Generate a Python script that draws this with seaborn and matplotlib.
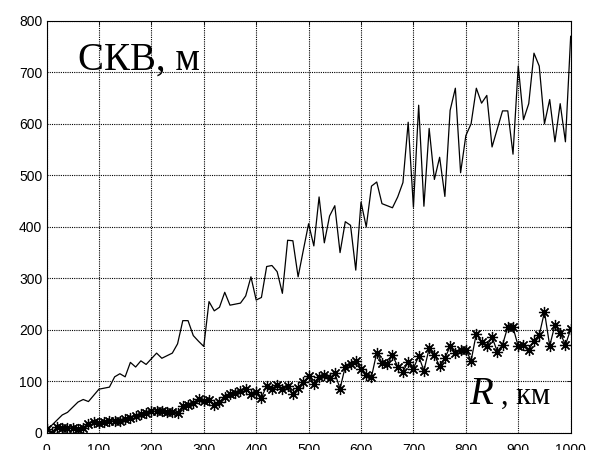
import seaborn as sns
import matplotlib.pyplot as plt
import numpy as np
import pandas as pd

# дальность, км
dist_km = np.arange(0, 1001, 10)

# СКВ, м (верхняя кривая)
skv_upper = [8, 15, 25, 35, 40, 50, 60, 65, 61, 73,
             85, 87, 89, 109, 115, 109, 137, 128, 140, 133,
             144, 155, 145, 150, 155, 173, 218, 218, 189, 178,
             168, 255, 237, 244, 273, 248, 250, 252, 266, 303,
             258, 263, 323, 325, 313, 271, 374, 373, 303, 355,
             406, 363, 458, 369, 421, 441, 350, 410, 403, 316,
             448, 400, 479, 487, 445, 441, 437, 458, 486, 603,
             438, 636, 440, 591, 492, 535, 459, 626, 669, 505,
             577, 600, 669, 640, 655, 555, 590, 625, 625, 541,
             712, 608, 639, 737, 712, 600, 647, 565, 639, 565,
             770]

# СКВ, м (нижняя кривая со звёздочками)
skv_lower = [8, 0, 12, 10, 10, 10, 8, 10, 18, 22,
             20, 22, 23, 24, 24, 27, 30, 33, 37, 38,
             42, 42, 42, 41, 40, 38, 52, 55, 58, 65,
             63, 64, 55, 60, 70, 75, 78, 82, 85, 75,
             80, 68, 92, 85, 93, 85, 92, 75, 88, 99,
             110, 96, 109, 112, 106, 116, 86, 129, 133, 140,
             125, 112, 109, 156, 136, 134, 151, 129, 119, 138,
             125, 149, 121, 164, 151, 130, 145, 168, 156, 161,
             162, 140, 193, 177, 169, 186, 158, 171, 206, 205,
             168, 171, 161, 179, 190, 235, 169, 210, 194, 171,
             201]

df = pd.DataFrame({"R": dist_km, "upper": skv_upper, "lower": skv_lower})

sns.set_style("white")
plt.rcParams['font.family'] = ['Liberation Sans', 'DejaVu Sans']

fig = plt.figure(figsize=(5.98, 4.5), dpi=100)
ax = fig.add_axes([0.0778, 0.0378, 0.8765, 0.9162])

sns.lineplot(data=df, x="R", y="upper", color="k", linewidth=0.9, ax=ax)
sns.lineplot(data=df, x="R", y="lower", color="k", linewidth=0.9,
             marker=(8, 2, 0), markersize=8, markeredgewidth=0.9,
             markeredgecolor="k", ax=ax)

ax.set_xlim(0, 1000)
ax.set_ylim(0, 800)
ax.set_xticks(np.arange(0, 1001, 100))
ax.set_yticks(np.arange(0, 801, 100))
ax.set_xlabel("")
ax.set_ylabel("")
ax.grid(True, color="k", linestyle=(0, (1, 1)), linewidth=0.8)
ax.tick_params(direction="in", length=3, width=0.6, labelsize=10,
               top=True, right=True, colors="k", pad=3)
ax.tick_params(axis="x", pad=7)
for s in ax.spines.values():
    s.set_color("k")
    s.set_linewidth(0.8)

ax.text(60, 705, "СКВ, м", fontsize=28, family="Liberation Serif", color="k")
ax.text(806, 56, "R", fontsize=28, family="Liberation Serif",
        style="italic", color="k")
ax.text(868, 56, ", км", fontsize=22, family="Liberation Serif", color="k")

fig.savefig("out.png", dpi=100)
